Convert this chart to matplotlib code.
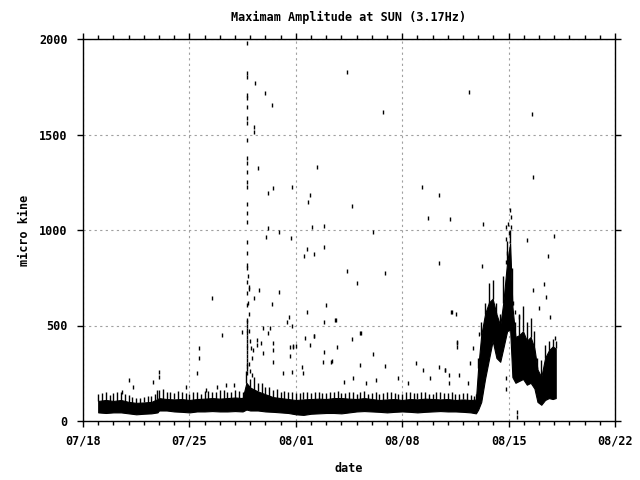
import matplotlib
matplotlib.use("Agg")
import matplotlib.pyplot as plt
from matplotlib.ticker import MultipleLocator

# days counted from 07/18 00:00
xtick_days = [0, 7, 14, 21, 28, 35]
xtick_labels = ["07/18", "07/25", "08/01", "08/08", "08/15", "08/22"]
ytick_vals = [0, 500, 1000, 1500, 2000]

# dense background band: time, lower edge, core top, ragged top
band_day = [1.0, 1.5, 2.0, 2.5, 3.0, 3.5, 4.0, 4.5, 4.9, 5.0, 5.5, 6.0, 6.5, 7.0, 7.5,
            8.0, 8.5, 9.0, 9.5, 10.0, 10.5, 10.75, 11.0, 11.5, 12.0, 12.5, 13.0, 13.5,
            14.0, 14.5, 15.0, 15.5, 16.0, 16.5, 17.0, 17.5, 18.0, 18.5, 19.0, 19.5,
            20.0, 20.5, 21.0, 21.5, 22.0, 22.5, 23.0, 23.5, 24.0, 24.5, 25.0, 25.5,
            25.85, 26.0, 26.2, 26.45, 26.7, 26.95, 27.2, 27.45, 27.65, 27.9, 28.1,
            28.25, 28.45, 28.7, 28.95, 29.2, 29.45, 29.7, 29.9, 30.15, 30.4, 30.65,
            30.9, 31.1]
band_lo = [45, 42, 45, 45, 40, 35, 38, 40, 45, 55, 55, 50, 48, 45, 50,
           50, 52, 50, 50, 52, 50, 60, 55, 55, 50, 48, 45, 42,
           35, 32, 38, 40, 42, 42, 40, 45, 50, 52, 50, 48,
           45, 48, 50, 48, 45, 48, 50, 52, 50, 50, 48, 45,
           40, 60, 100, 220, 320, 420, 330, 310, 380, 470, 480,
           230, 200, 210, 220, 190, 200, 170, 100, 85, 110, 120,
           115, 120]
band_hi = [105, 110, 105, 110, 100, 95, 97, 100, 115, 120, 115, 113, 115, 110, 115,
           117, 120, 117, 120, 123, 120, 200, 175, 155, 140, 125, 120, 115,
           110, 113, 115, 117, 115, 120, 120, 117, 115, 120, 115, 110,
           113, 115, 110, 115, 113, 117, 115, 113, 115, 110, 113, 110,
           112, 280, 450, 560, 620, 640, 560, 500, 620, 830, 930,
           600, 440, 450, 470, 420, 440, 380, 270, 230, 330, 370,
           390, 380]
band_top = [140, 150, 145, 150, 135, 120, 125, 130, 160, 160, 150, 145, 150, 140, 150,
            155, 150, 160, 150, 160, 150, 260, 220, 200, 180, 160, 150, 150,
            145, 150, 145, 150, 145, 150, 145, 150, 140, 155, 145, 140,
            150, 145, 140, 150, 145, 150, 140, 150, 145, 140, 145, 135,
            140, 330, 520, 620, 720, 740, 620, 560, 760, 940, 1000,
            800, 520, 560, 600, 520, 540, 470, 330, 320, 400, 420,
            430, 420]

# extra ragged tops of the band between the samples above
rag_day = [1.25, 1.75, 2.25, 2.75, 3.25, 3.75, 4.25, 4.75, 5.25, 5.75,
           6.25, 6.75, 7.25, 7.75, 8.25, 8.75, 9.25, 9.75, 10.25, 10.75,
           11.25, 11.75, 12.25, 12.75, 13.25, 13.75, 14.25, 14.75, 15.25, 15.75,
           16.25, 16.75, 17.25, 17.75, 18.25, 18.75, 19.25, 19.75, 20.25, 20.75,
           21.25, 21.75, 22.25, 22.75, 23.25, 23.75, 24.25, 24.75, 25.25, 25.75]
rag_top = [145, 135, 150, 140, 125, 118, 130, 140, 165, 150,
           155, 145, 150, 140, 155, 150, 160, 150, 155, 180,
           230, 200, 180, 165, 155, 150, 145, 150, 150, 145,
           150, 155, 145, 150, 150, 140, 150, 145, 150, 140,
           150, 145, 150, 140, 150, 145, 150, 140, 145, 130]

# isolated short dashes above / below the band
spike_day = [10.77, 10.77, 10.8, 10.77, 10.78, 10.77, 10.77, 10.8, 10.77, 10.78, 10.8,
             10.77, 10.77, 10.77, 10.8, 10.77, 10.78, 10.77, 10.8, 10.77, 10.78, 10.77,
             10.8, 10.77, 10.77, 10.8, 10.77, 10.78, 10.8, 10.77, 10.79, 10.77, 10.8,
             10.78, 10.8, 10.77, 10.79, 10.77, 10.8, 10.78,
             10.9, 10.95, 11.0, 11.05, 11.1, 10.9, 11.0, 11.15, 10.85, 10.9, 10.88, 10.92,
             11.34, 12.0, 12.43, 11.25, 11.22, 11.53, 12.52, 12.2, 13.77, 14.93, 14.82,
             15.4, 17.35, 12.2, 12.02, 12.9, 13.7, 15.08, 15.88, 14.76, 14.56, 15.2,
             15.88, 17.35, 12.9, 12.43, 16.0, 14.72, 11.58, 11.22, 13.57, 13.4, 15.88,
             16.62, 13.75, 11.86, 12.3, 10.44, 15.22, 14.63, 14.93, 13.62, 13.84, 16.73,
             12.52, 15.86, 16.36, 13.62,
             9.12, 7.65, 7.65, 7.48, 4.98, 4.98, 4.62, 3.05, 3.27, 2.57, 6.78, 8.1,
             8.8, 9.41, 9.95, 11.47, 11.47, 11.69, 12.2, 11.86, 11.2, 12.52, 8.5,
             18.22, 15.2, 17.68, 15.8, 16.32, 19.1, 19.87, 18.22, 21.9, 22.4, 23.4, 23.8,
             24.58, 24.58, 25.63, 25.45, 25.35, 24.75, 21.4, 20.7, 19.3, 18.65, 17.78,
             17.19, 14.5, 13.73, 13.18, 12.52, 13.8, 14.0, 14.39, 22.8, 24.1, 18.27,
             16.6, 26.07,
             25.42, 19.76, 22.28, 23.44, 17.68, 22.72, 24.17, 19.1, 23.44, 19.9, 18.0,
             24.24, 24.25,
             29.56, 29.63, 26.34, 31.0, 29.23, 30.61, 26.27, 28.1, 28.15, 27.98, 27.8,
             28.15, 28.05, 27.8, 27.9, 27.8, 29.6, 30.35, 30.46, 29.98, 30.7, 31.05,
             28.57, 28.57, 27.85, 27.85, 28.45, 28.7, 28.27, 24.6, 23.8, 24.1, 24.55]
spike_val = [1977, 1820, 1800, 1707, 1690, 1646, 1585, 1560, 1471, 1375, 1350,
             1305, 1253, 1227, 1136, 1087, 1044, 939, 878, 817, 800, 729,
             668, 607, 529, 500, 476, 440, 400, 360, 320, 290, 250,
             520, 460, 420, 380, 340, 300, 270,
             560, 470, 420, 380, 330, 300, 260, 240, 620, 700, 760, 690,
             1768, 1716, 1654, 1541, 1515, 1326, 1219, 1192, 1223, 1183, 1148,
             1331, 1829, 1008, 961, 991, 956, 1017, 1021, 900, 864, 874,
             913, 787, 677, 612, 607, 572, 686, 642, 543, 520, 520,
             529, 497, 489, 489, 468, 445, 433, 398, 389, 389, 389,
             372, 363, 314, 340,
             450, 330, 382, 251, 230, 257, 206, 215, 180, 153, 180, 162,
             180, 188, 188, 400, 424, 407, 459, 356, 372, 407, 645,
             459, 445, 428, 311, 311, 351, 288, 293, 302, 267, 284, 267,
             412, 386, 381, 302, 197, 241, 197, 223, 215, 197, 223,
             206, 250, 258, 250, 311, 393, 393, 284, 223, 197, 459,
             529, 454,
             1724, 1619, 1223, 1182, 1126, 1061, 1056, 988, 826, 773, 721,
             569, 569,
             1606, 1276, 1030, 969, 946, 864, 812, 1105, 1070, 1031, 1017,
             1017, 982, 951, 878, 834, 686, 717, 651, 590, 546, 433,
             47, 20, 225, 170, 572, 546, 619, 407, 267, 241, 560]

plt.rcParams["font.family"] = ["DejaVu Sans Mono"]
plt.rcParams["font.weight"] = "bold"
plt.rcParams["font.size"] = 8.5

fig = plt.figure(figsize=(6.4, 4.8), dpi=100)
ax = fig.add_axes([83 / 640, 59 / 480, 532 / 640, 382 / 480])

ax.fill_between(band_day, band_lo, band_hi, color="black", linewidth=0.8)
ax.vlines(band_day, band_hi, band_top, color="black", linewidth=1.0)
ax.vlines(rag_day, 90, rag_top, color="black", linewidth=1.0)
ax.plot(spike_day, spike_val, "|", color="black", markersize=3.5, markeredgewidth=1.0)

ax.set_xlim(0, 35)
ax.set_ylim(0, 2000)
ax.set_xticks(xtick_days)
ax.set_xticklabels(xtick_labels)
ax.xaxis.set_minor_locator(MultipleLocator(1))
ax.set_yticks(ytick_vals)

ax.grid(True, which="major", color="#a0a0a0", linestyle=(0, (2, 3)), linewidth=0.8)
ax.set_axisbelow(True)
for s in ax.spines.values():
    s.set_linewidth(1.0)
    s.set_zorder(5)

ax.tick_params(which="major", direction="out", length=4, width=1, top=True, right=True)
ax.tick_params(which="minor", direction="out", length=3, width=1, top=True, right=False)
ax.tick_params(axis="x", pad=6)
ax.tick_params(axis="y", pad=7)

ax.set_title("Maximam Amplitude at SUN (3.17Hz)", pad=13, fontsize=8.5, fontweight="bold")
ax.set_xlabel("date", labelpad=10, fontweight="bold")
ax.set_ylabel("micro kine", labelpad=6, fontweight="bold")

fig.savefig("out.png", dpi=100)
